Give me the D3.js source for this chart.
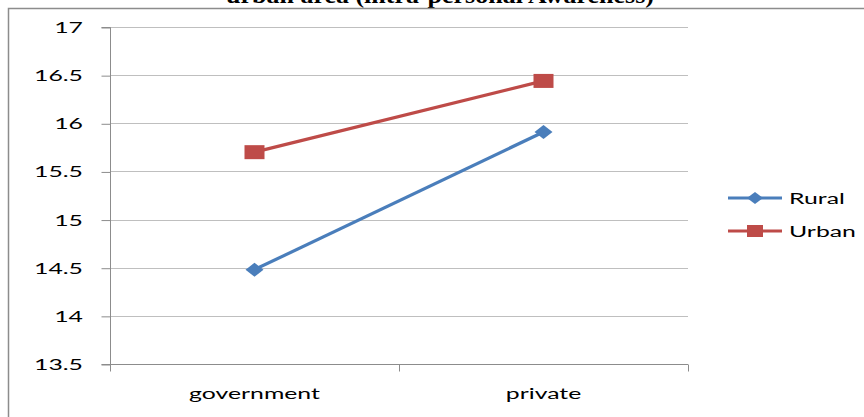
<!DOCTYPE html>
<html><head><meta charset="utf-8">
<script src="https://cdn.jsdelivr.net/npm/d3@7"></script>
<style>body{margin:0;background:#fff}svg{display:block}</style>
</head><body>
<svg id="c" width="864" height="417"></svg>
<script>
const categories = ["government", "private"];
const seriesNames = ["Rural", "Urban"];
const rural = [14.48, 15.91];
const urban = [15.70, 16.44];
const yTicks = [13.5, 14, 14.5, 15, 15.5, 16, 16.5, 17];
const colors = ["#4a7ebb", "#be4b48"];
const titleText = "urban area (intra-personal Awareness)";

const svg = d3.select("#c");
const font = "Lato, 'Open Sans', sans-serif";
const SX = 1.55; // horizontal stretch of the reference raster

// title (clipped at top)
svg.append("g").attr("transform", `translate(440,3) scale(1.13,1)`)
  .append("text").attr("x", 0).attr("y", 0).attr("text-anchor", "middle")
  .attr("font-family", "'Liberation Serif', serif").attr("font-weight", "bold")
  .attr("font-size", 23).attr("fill", "#000").text(titleText);

// chart frame
svg.append("rect").attr("x", 8.5).attr("y", 8.5).attr("width", 900).attr("height", 500)
  .attr("fill", "#fff").attr("stroke", "#8c8c8c").attr("stroke-width", 1.5);

const x0 = 110, x1 = 688, yTop = 27, yBot = 364;
const x = d3.scaleBand().domain(categories).range([x0, x1]);
const y = d3.scaleLinear().domain([13.5, 17]).range([yBot, yTop]);

function stext(g, tx, ty, anchor, txt) {
  return g.append("g").attr("transform", `translate(${tx},${ty}) scale(${SX},1)`)
    .append("text").attr("text-anchor", anchor)
    .attr("font-family", font).attr("font-size", 16).attr("fill", "#000").text(txt);
}

// gridlines
svg.append("g").selectAll("line").data(yTicks.filter(t => t !== 13.5)).join("line")
  .attr("x1", x0).attr("x2", x1).attr("y1", d => Math.round(y(d)) + 0.5).attr("y2", d => Math.round(y(d)) + 0.5)
  .attr("stroke", "#bfbfbf").attr("stroke-width", 1);

// y axis
const yAxis = d3.axisLeft(y).tickValues(yTicks).tickSize(9).tickFormat("");
const gy = svg.append("g").attr("transform", `translate(${x0 + 0.5},0.5)`).call(yAxis);
gy.select(".domain").attr("stroke", "#8c8c8c").attr("d", `M-9,${yTop}H0V${yBot}H-9`);
gy.selectAll(".tick line").attr("stroke", "#8c8c8c");
yTicks.forEach(t => stext(svg, 83, y(t) + 6, "end", d3.format("")(t)));

// x axis
const gx = svg.append("g").attr("transform", `translate(0,${yBot + 0.5})`);
gx.append("line").attr("x1", x0).attr("x2", x1).attr("stroke", "#8c8c8c");
const bounds = [x0, x0 + x.bandwidth(), x1];
gx.selectAll(".tk").data(bounds).join("line").attr("class", "tk")
  .attr("x1", d => d + 0.5).attr("x2", d => d + 0.5).attr("y1", 0).attr("y2", 7).attr("stroke", "#8c8c8c");
categories.forEach(c => stext(gx, x(c) + x.bandwidth() / 2, 34, "middle", c));

const series = [rural, urban];
const line = d3.line().x((d, i) => x(categories[i]) + x.bandwidth() / 2).y(d => y(d));
series.forEach((s, k) => {
  svg.append("path").datum(s).attr("d", line).attr("fill", "none")
    .attr("stroke", colors[k]).attr("stroke-width", 3.2);
  const g = svg.append("g");
  s.forEach((v, i) => {
    const cx = x(categories[i]) + x.bandwidth() / 2, cy = y(v);
    if (k === 0) {
      g.append("path").attr("d", `M${cx},${cy - 7}L${cx + 9},${cy}L${cx},${cy + 7}L${cx - 9},${cy}Z`).attr("fill", colors[k]);
    } else {
      g.append("rect").attr("x", cx - 10).attr("y", cy - 7).attr("width", 20).attr("height", 14).attr("fill", colors[k]);
    }
  });
});

// legend
const leg = svg.append("g");
seriesNames.forEach((n, k) => {
  const ly = 198 + k * 33;
  leg.append("line").attr("x1", 728).attr("x2", 782).attr("y1", ly).attr("y2", ly)
    .attr("stroke", colors[k]).attr("stroke-width", 3.2);
  if (k === 0) leg.append("path").attr("d", `M755,${ly - 6}L763,${ly}L755,${ly + 6}L747,${ly}Z`).attr("fill", colors[k]);
  else leg.append("rect").attr("x", 747).attr("y", ly - 6).attr("width", 16).attr("height", 12).attr("fill", colors[k]);
  stext(leg, 789, ly + 6, "start", n);
});
</script>
</body></html>
